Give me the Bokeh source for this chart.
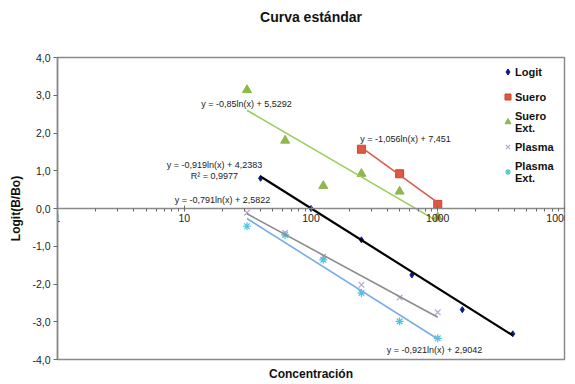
from bokeh.plotting import figure
from bokeh.models import (FixedTicker, CustomJSTickFormatter, Label, Legend,
                          LegendItem, Range1d, Title, LogAxis)
from bokeh.embed import file_html
from bokeh.resources import INLINE
import numpy as np

# ---- data ----
logit_x = [40, 100, 250, 625, 1562.5, 3906.25]
logit_y = [0.80, 0.00, -0.83, -1.76, -2.68, -3.32]

suero_x = [250, 500, 1000]
suero_y = [1.57, 0.92, 0.11]

suero_ext_x = [31.25, 62.5, 125, 250, 500, 1000]
suero_ext_y = [3.14, 1.80, 0.60, 0.92, 0.45, -0.23]

plasma_x = [31.25, 62.5, 125, 250, 500, 1000]
plasma_y = [-0.11, -0.65, -1.27, -2.02, -2.36, -2.75]

plasma_ext_x = [31.25, 62.5, 125, 250, 500, 1000]
plasma_ext_y = [-0.47, -0.70, -1.36, -2.24, -2.99, -3.44]

# trendline coefficients  y = a*ln(x) + b
trend_names = ["Logit", "Suero", "Suero Ext.", "Plasma", "Plasma Ext."]
trend_a = [-0.919, -1.056, -0.85, -0.791, -0.921]
trend_b = [4.2383, 7.451, 5.5292, 2.5822, 2.9042]
trend_labels = ["y = -0,919ln(x) + 4,2383\nR\u00b2 = 0,9977",
                "y = -1,056ln(x) + 7,451",
                "y = -0,85ln(x) + 5,5292",
                "y = -0,791ln(x) + 2,5822",
                "y = -0,921ln(x) + 2,9042"]

x_ticks = [1, 10, 100, 1000, 10000]
y_ticks = [-4, -3, -2, -1, 0, 1, 2, 3, 4]

FONT = "Liberation Sans"

p = figure(width=575, height=384, x_axis_type="log",
           x_range=Range1d(1, 10000), y_range=Range1d(-4, 4),
           output_backend="svg", toolbar_location=None,
           min_border_left=57, min_border_right=11,
           min_border_top=57, min_border_bottom=25)
p.xgrid.visible = False
p.ygrid.visible = False
p.outline_line_color = "#8a8a8a"
p.outline_line_width = 1.5
p.background_fill_color = "white"
p.border_fill_color = "white"

# title (with an empty spacer between it and the frame)
p.title.text = "Curva est\u00e1ndar"
p.title.align = "center"
p.title.text_font = FONT
p.title.text_font_size = "14px"
p.title.text_font_style = "bold"
p.title.text_color = "#111111"
p.add_layout(Title(text=" ", text_font_size="14px"), "above")

# x axis crossing at y = 0
xa = p.xaxis[0]
xa.fixed_location = 0
xa.ticker = FixedTicker(ticks=x_ticks,
                        minor_ticks=[m * 10 ** d for d in range(4) for m in range(2, 10)])
xa.formatter = CustomJSTickFormatter(code="return String(Math.round(tick))")
xa.axis_line_color = "#8a8a8a"
xa.axis_line_width = 1.5
xa.major_tick_line_color = "#6a6a6a"
xa.minor_tick_line_color = "#6a6a6a"
xa.major_tick_in = 3
xa.major_tick_out = 3
xa.minor_tick_in = 0
xa.minor_tick_out = 3
xa.major_label_standoff = 2
xa.major_label_text_font = FONT
xa.major_label_text_font_size = "10.5px"
xa.major_label_text_color = "#222222"

# x-axis title at the bottom: a bare axis that carries only its label
xlab_axis = LogAxis(ticker=FixedTicker(ticks=[], minor_ticks=[]),
                    axis_line_color=None, major_tick_line_color=None,
                    minor_tick_line_color=None, major_tick_out=0, major_tick_in=0,
                    major_label_text_font_size="0px", major_label_standoff=0,
                    axis_label="Concentraci\u00f3n", axis_label_standoff=7,
                    axis_label_text_font=FONT, axis_label_text_font_size="12px",
                    axis_label_text_font_style="bold",
                    axis_label_text_color="#111111")
p.add_layout(xlab_axis, "below")

ya = p.yaxis[0]
ya.ticker = FixedTicker(ticks=y_ticks, minor_ticks=[])
ya.formatter = CustomJSTickFormatter(code="return tick.toFixed(1).replace('.', ',')")
ya.axis_line_color = "#8a8a8a"
ya.axis_line_width = 1.5
ya.major_tick_line_color = "#6a6a6a"
ya.major_tick_in = 0
ya.major_tick_out = 4
ya.minor_tick_line_color = None
ya.major_label_standoff = 3
ya.major_label_text_font = FONT
ya.major_label_text_font_size = "10.5px"
ya.major_label_text_color = "#222222"
ya.axis_label = "Logit(B/Bo)"
ya.axis_label_text_font = FONT
ya.axis_label_text_font_size = "12px"
ya.axis_label_text_font_style = "bold"
ya.axis_label_text_color = "#111111"
ya.axis_label_standoff = 6

# ---- markers ----
r_logit = p.scatter(logit_x, logit_y, marker="diamond", size=6,
                    fill_color="#0a1a8c", line_color="#0a1a8c")
r_suero = p.scatter(suero_x, suero_y, marker="square", size=8,
                    fill_color="#E0583F", line_color="#C8452E")
r_sext = p.scatter(suero_ext_x, suero_ext_y, marker="triangle", size=9,
                   fill_color="#8DB84A", line_color="#8DB84A")
r_plasma = p.scatter(plasma_x, plasma_y, marker="x", size=8,
                     line_color="#B4A7D6", line_width=1.2)
r_pext = p.scatter(plasma_ext_x, plasma_ext_y, marker="asterisk", size=8,
                   line_color="#4FC3E0", line_width=1.2)

# ---- trendlines ----
series_x = [logit_x, suero_x, suero_ext_x, plasma_x, plasma_ext_x]
line_colors = ["#000000", "#DC5A4C", "#9ACD5A", "#8C8C8C", "#78AEE3"]
line_widths = [2.2, 1.6, 1.6, 1.6, 1.6]
for xs, a, b, c, w in zip(series_x, trend_a, trend_b, line_colors, line_widths):
    xl = np.array([min(xs), max(xs)])
    yl = a * np.log(xl) + b
    p.line(xl, yl, line_color=c, line_width=w)

# ---- trendline equation labels (screen px relative to frame bottom-left) ----
fl, fb = 57, 359  # frame left/bottom in page coordinates
eq_pos = [(214, 170), (405, 138), (246, 103), (222, 199), (434, 349)]
for txt, (px, py) in zip(trend_labels, eq_pos):
    p.add_layout(Label(x=px - fl, y=fb - py, x_units="screen", y_units="screen",
                       text=txt, text_font=FONT, text_font_size="9px",
                       text_color="#222222", text_align="center",
                       text_baseline="middle", text_line_height=1.1))

# ---- legend ----
legend = Legend(items=[LegendItem(label="Logit", renderers=[r_logit]),
                       LegendItem(label="Suero", renderers=[r_suero]),
                       LegendItem(label="Suero\nExt.", renderers=[r_sext]),
                       LegendItem(label="Plasma", renderers=[r_plasma]),
                       LegendItem(label="Plasma\nExt.", renderers=[r_pext])],
                location=(443, 175), padding=0, margin=0, spacing=0,
                glyph_width=15, glyph_height=25, label_height=25,
                label_standoff=0, border_line_color=None,
                background_fill_alpha=0,
                label_text_font=FONT, label_text_font_size="11px",
                label_text_font_style="bold", label_text_color="#111111",
                label_text_line_height=1.1)
p.add_layout(legend)

open("out.html", "w").write(file_html(p, INLINE))
